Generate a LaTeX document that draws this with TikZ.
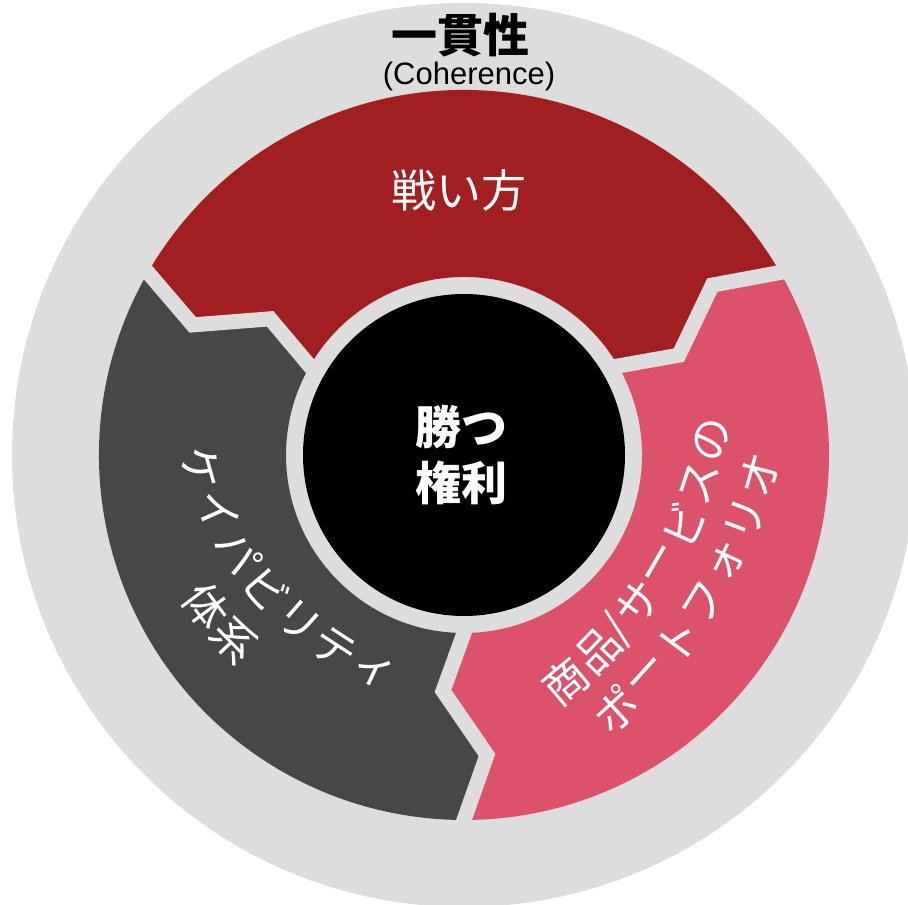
\documentclass[tikz,border=0pt]{standalone}
\usepackage{fontspec}
\setmainfont{Liberation Sans}
\newfontfamily\jp{Noto Sans CJK JP}
\usetikzlibrary{calc}
\definecolor{bggray}{HTML}{DDDDDD}
\definecolor{segred}{HTML}{A11F21}
\definecolor{seggray}{HTML}{474747}
\definecolor{segpink}{HTML}{DC526B}
\newcommand\slashch{/}
\begin{document}
\begin{tikzpicture}[x=1pt,y=1pt,
  gapline/.style={draw=bggray,line width=15pt,line join=miter},
  arcchar/.style={text=white,inner sep=0pt,anchor=center,font=\jp\fontsize{44}{44}\selectfont},
  titlejp/.style={inner sep=0pt,font=\jp\bfseries\fontsize{46}{46}\selectfont},
]
\useasboundingbox (0,0) rectangle (908,905);
\coordinate (C) at (464,450);
\fill[bggray] (C) circle (452);
% three segments
\foreach \a/\col in {30/segred,150/seggray,270/segpink}{
  \fill[fill=\col,shift={(C)}] (\a:365) arc[start angle=\a,end angle=\a+120,radius=365]
    -- ({\a+120+4.38}:300.9) -- ({\a+120-5.08}:236.9) -- ({\a+120}:178)
    arc[start angle=\a+120,end angle=\a,radius=178]
    -- ({\a-5.08}:236.9) -- ({\a+4.38}:300.9) -- cycle;
}
% gaps between segments
\foreach \a in {30,150,270}{
  \draw[gapline,shift={(C)}] ({\a-1.0}:384) -- (\a:365) -- ({\a+4.38}:300.9)
    -- ({\a-5.08}:236.9) -- (\a:178) -- ({\a+1.8}:164);
}
% core
\node[circle,fill=black,minimum size=322pt,inner sep=0pt] (core) at (C) {};
\node[titlejp,text=white] (win1) at (461.7,478.3) {勝つ};
\node[titlejp,text=white] (win2) at (461.7,422) {権利};
% top labels
\node[titlejp] (coh) at (460,870) {一貫性};
\node[inner sep=0pt,font=\fontsize{31}{31}\selectfont] (cohen) at (469,829) {(Coherence)};
\node[inner sep=0pt,text=white,font=\jp\fontsize{45}{45}\selectfont] (strat) at (459,715) {戦い方};
% capability text (arc about O1)
\coordinate (O1) at (508.6,523.7);
\foreach \ch [count=\i from 0] in {ケ,イ,パ,ビ,リ,テ,ィ}{
  \pgfmathsetmacro\t{195.8+8.23*\i}
  \pgfmathsetmacro\rr{\t+90}
  \node[arcchar,rotate=\rr] (capa\i) at ($(O1)+(\t:319)$) {\ch};
}
\foreach \t/\ch [count=\i] in {216.6/体,223.4/系}{
  \pgfmathsetmacro\rr{\t+90}
  \node[arcchar,rotate=\rr] (capb\i) at ($(O1)+(\t:377)$) {\ch};
}
% portfolio text (arc about O2)
\coordinate (O2) at (283.8,559.2);
\foreach \t/\ch [count=\i] in {-50.0/商,-44.1/品,-40.4/\slashch,-36.0/サ,-30.1/ー,-24.2/ビ,-18.3/ス,-12.4/の}{
  \pgfmathsetmacro\rr{\t+90}
  \node[arcchar,rotate=\rr] (porta\i) at ($(O2)+(\t:438)$) {\ch};
}
\foreach \ch [count=\i from 0] in {ポ,ー,ト,フ,ォ,リ,オ}{
  \pgfmathsetmacro\t{-47.6+5.4*\i}
  \pgfmathsetmacro\rr{\t+90}
  \node[arcchar,rotate=\rr] (portb\i) at ($(O2)+(\t:493)$) {\ch};
}
\end{tikzpicture}
\end{document}
